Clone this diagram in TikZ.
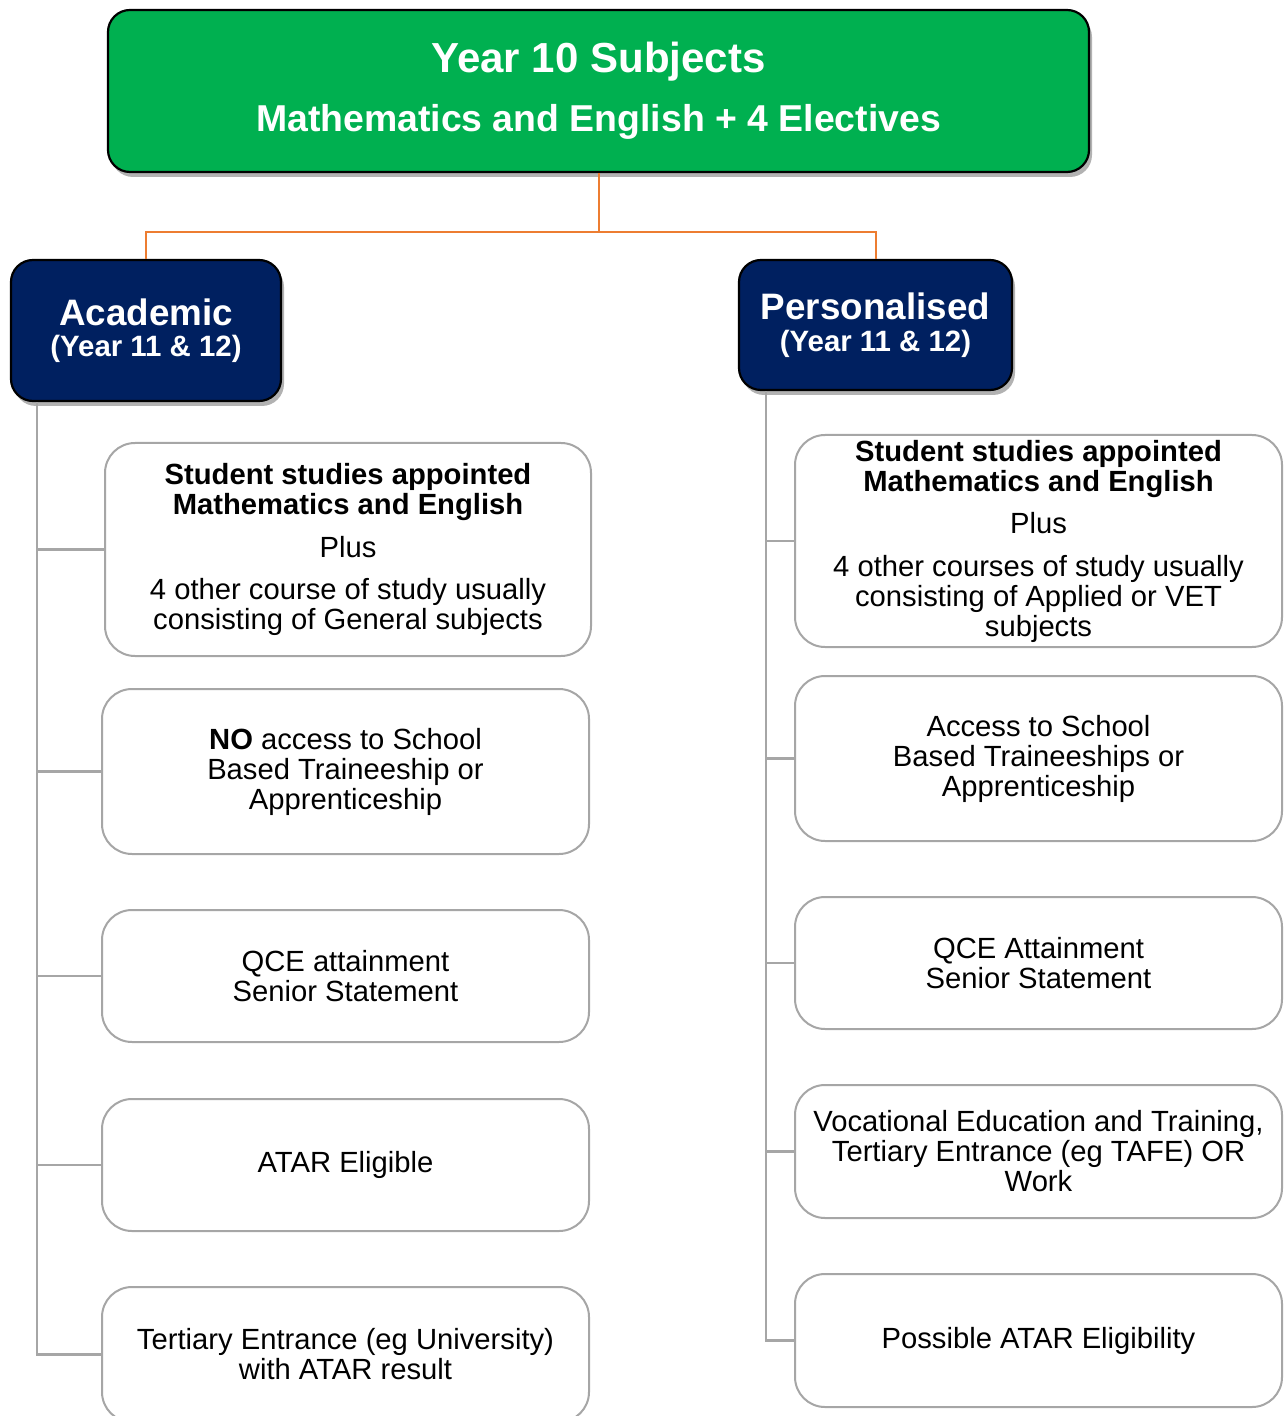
\documentclass[tikz,border=0pt]{standalone}
\usepackage{fontspec}
\setmainfont{Liberation Sans}
\usetikzlibrary{shadows}
\definecolor{hdgreen}{HTML}{00B050}
\definecolor{hdnavy}{HTML}{002060}
\definecolor{lnorange}{HTML}{ED7D31}
\definecolor{lngray}{HTML}{A6A6A6}
\tikzset{
  headbox/.style={draw=black, line width=1.1pt, rounded corners=11pt, text=white, align=center, inner sep=0pt,
    drop shadow={shadow xshift=1.5pt, shadow yshift=-2.5pt, fill=black, opacity=0.3}},
  infobox/.style={draw=lngray, line width=1pt, rounded corners=15pt, fill=white, align=center, inner sep=0pt,
    font=\fontsize{14.6}{15}\selectfont},
  orangeline/.style={draw=lnorange, line width=1pt},
  grayline/.style={draw=lngray, line width=1.2pt},
}
\begin{document}
\begin{tikzpicture}[x=0.5pt, y=-0.5pt]
\useasboundingbox (0,0) rectangle (1283,1416);
% top
\node[headbox, fill=hdgreen, minimum width=490.5pt, minimum height=81pt,
  font=\bfseries\fontsize{21}{30.5}\selectfont] (top) at (598.5,91)
  {\raisebox{-1pt}{Year 10 Subjects}\\{\fontsize{18.7}{30.5}\selectfont Mathematics and English + 4 Electives}};
\node[headbox, fill=hdnavy, minimum width=135pt, minimum height=70.5pt,
  font=\bfseries\fontsize{18.4}{16.5}\selectfont] (acad) at (146,330.5)
  {\raisebox{-1pt}{Academic}\\{\fontsize{14.7}{16.5}\selectfont (Year 11 \& 12)}};
\node[headbox, fill=hdnavy, minimum width=136.5pt, minimum height=65pt,
  font=\bfseries\fontsize{18.4}{16}\selectfont] (pers) at (875.5,325)
  {Personalised\\{\fontsize{14.7}{16}\selectfont (Year 11 \& 12)}};
% left boxes
\node[infobox, minimum width=243pt, minimum height=106.5pt] (l1) at (348,549.5)
  {\textbf{Student studies appointed}\\\textbf{Mathematics and English}\\[6.5pt]Plus\\[6pt]4 other course of study usually\\consisting of General subjects};
\node[infobox, minimum width=243.5pt, minimum height=82.5pt] (l2) at (345.5,771.5)
  {\textbf{NO} access to School\\Based Traineeship or\\Apprenticeship};
\node[infobox, minimum width=243.5pt, minimum height=66pt] (l3) at (345.5,976)
  {QCE attainment\\Senior Statement};
\node[infobox, minimum width=243.5pt, minimum height=66pt] (l4) at (345.5,1165)
  {ATAR Eligible};
\node[infobox, minimum width=243.5pt, minimum height=67.5pt] (l5) at (345.5,1354.5)
  {Tertiary Entrance (eg University)\\with ATAR result};
% right boxes
\node[infobox, minimum width=243.5pt, minimum height=106pt] (r1) at (1038.5,541)
  {\textbf{Student studies appointed}\\\textbf{Mathematics and English}\\[6pt]Plus\\[6.5pt]4 other courses of study usually\\consisting of Applied or VET\\subjects};
\node[infobox, minimum width=243.5pt, minimum height=82.5pt] (r2) at (1038.5,758.5)
  {Access to School\\Based Traineeships or\\Apprenticeship};
\node[infobox, minimum width=243.5pt, minimum height=66pt] (r3) at (1038.5,963)
  {QCE Attainment\\Senior Statement};
\node[infobox, minimum width=243.5pt, minimum height=66.5pt] (r4) at (1038.5,1151.5)
  {Vocational Education and Training,\\Tertiary Entrance (eg TAFE) OR\\Work};
\node[infobox, minimum width=243.5pt, minimum height=66.5pt] (r5) at (1038.5,1340.5)
  {Possible ATAR Eligibility};
% orange connectors
\coordinate (mid) at (598.5,232);
\draw[orangeline] (top.south) -- (mid);
\draw[orangeline] (acad.north) |- (mid) -| (pers.north);
% gray connectors
\coordinate (lt) at ([xshift=13.5pt]acad.south west);
\coordinate (rt) at ([xshift=14pt]pers.south west);
\foreach \n in {l1,l2,l3,l4,l5} \draw[grayline] (lt) |- (\n.west);
\foreach \n in {r1,r2,r3,r4,r5} \draw[grayline] (rt) |- (\n.west);
\end{tikzpicture}
\end{document}
